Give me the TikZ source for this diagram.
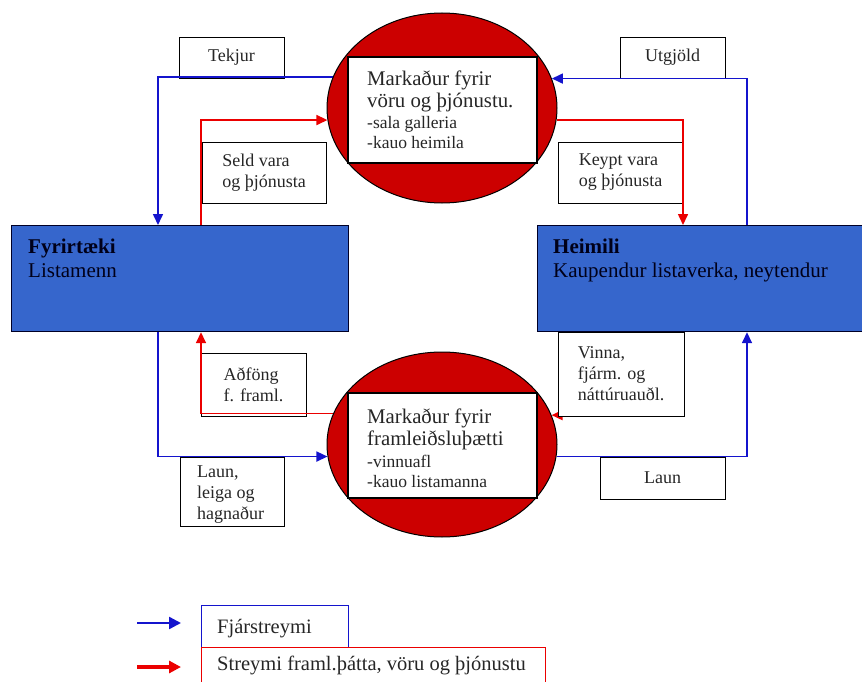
\documentclass[tikz,border=0pt]{standalone}
\usepackage{fontspec}
\setmainfont{Liberation Serif}
\usetikzlibrary{arrows.meta,shapes.geometric}
\definecolor{sectorblue}{RGB}{54,102,204}
\definecolor{flowblue}{RGB}{20,20,205}
\definecolor{flowred}{RGB}{235,0,0}
\definecolor{marketred}{RGB}{204,0,0}
\pgfdeclarelayer{labels}
\pgfdeclarelayer{lines}
\pgfsetlayers{labels,lines,main}
\tikzset{
  sector/.style={draw=black!85!blue, line width=1.2pt, fill=sectorblue, inner sep=0, anchor=north west, minimum height=106pt},
  sectortxt/.style={inner sep=0, anchor=north west, align=left, text=black!90!blue, font=\fontsize{21}{24}\selectfont},
  market/.style={ellipse, draw=black, line width=1pt, fill=marketred, inner sep=0, minimum width=230pt},
  inbox/.style={draw=black, line width=1.4pt, fill=white, inner sep=0, minimum width=189pt},
  mkttitle/.style={inner sep=0, anchor=north west, align=left, text=black!85, font=\fontsize{20.8}{21.5}\selectfont},
  mktsub/.style={inner sep=0, anchor=north west, align=left, text=black!85, font=\fontsize{17.5}{20}\selectfont},
  flowlbl/.style={draw=black, line width=0.9pt, fill=white, inner sep=0, align=left, text=black!85, font=\fontsize{18}{21}\selectfont},
  flowtxt/.style={inner sep=0, anchor=north west, align=left, text=black!85, font=\fontsize{18}{21}\selectfont},
  money/.style={draw=flowblue, line width=1.6pt, -{Triangle[length=11pt,width=10pt]}},
  goods/.style={draw=flowred, line width=1.6pt, -{Triangle[length=11pt,width=10pt]}},
  legbox/.style={line width=0.9pt, fill=none, inner sep=0},
  legtxt/.style={inner sep=0, anchor=base west, text=black!85, font=\fontsize{20.5}{24}\selectfont},
}
\begin{document}
\begin{tikzpicture}[x=1pt,y=-1pt]
\useasboundingbox (0,0) rectangle (862,682);

% sectors
\node[sector, minimum width=337pt] (firm) at (11,225) {};
\node[sector, minimum width=333pt] (heim) at (537,225) {};
\node[sectortxt] (firmT) at (28,238.5) {\textbf{Fyrirtæki}\\Listamenn};
\node[sectortxt] (heimT) at (553,238.5) {\textbf{Heimili}\\Kaupendur listaverka, neytendur};

% markets
\node[market, minimum height=190pt] (mtop) at (442,108) {};
\node[inbox, minimum height=106pt] (itop) at (442.5,110) {};
\node[mkttitle] (itopT) at (367,70.8) {Markaður fyrir\\vöru og þjónustu.};
\node[mktsub] (itopS) at (367,116) {-sala galleria\\-kauo heimila};

\node[market, minimum height=185pt] (mbot) at (442,444.5) {};
\node[inbox, minimum height=105pt] (ibot) at (442.5,445.5) {};
\node[mkttitle] (ibotT) at (367,408.8) {Markaður fyrir\\framleiðsluþætti};
\node[mktsub] (ibotS) at (367,455) {-vinnuafl\\-kauo listamanna};

% flow labels
\begin{pgfonlayer}{labels}
\node[flowlbl, minimum width=105pt, minimum height=41pt] (tekjur) at (231.5,57.5) {Tekjur};
\node[flowlbl, minimum width=105pt, minimum height=41pt] (utg) at (672.5,57.5) {Utgjöld};
\node[flowlbl, minimum width=124pt, minimum height=61pt] (seld) at (264,172.5) {Seld vara\\og þjónusta};
\node[flowlbl, minimum width=125pt, minimum height=61pt] (keypt) at (620.5,172.5) {Keypt vara\\og þjónusta};
\node[flowlbl, minimum width=105pt, minimum height=63pt] (adf) at (253.5,384.5) {Aðföng\\f. framl.};
\node[flowlbl, minimum width=104pt, minimum height=69pt] (laun1) at (232,491.5) {};
\node[flowtxt] (laun1T) at (197,466) {Laun,\\leiga og\\hagnaður};
\node[flowlbl, minimum width=125pt, minimum height=42pt] (laun2) at (662.5,478) {Laun};
\end{pgfonlayer}

% connectors
\begin{pgfonlayer}{lines}
\draw[money] (mtop.164.6) -| ([xshift=147pt]firm.north west);
\draw[money] ([xshift=210pt]heim.north west) |- (mtop.15.4);
\draw[goods] ([xshift=190pt]firm.north west) |- (mtop.186);
\draw[goods] (mtop.-6) -| ([xshift=146pt]heim.north west);
\draw[goods] (mbot.164.9) -| ([xshift=190pt]firm.south west);
\draw[money] ([xshift=147pt]firm.south west) |- (mbot.186.3);
\draw[goods] ([xshift=147pt]heim.south west) |- (mbot.15.1);
\draw[money] (mbot.-6.3) -| ([xshift=210pt]heim.south west);
\end{pgfonlayer}

\node[flowlbl, minimum width=126pt, minimum height=84pt] (vinna) at (621,374) {Vinna,\\fjárm. og\\náttúruauðl.};

% legend
\coordinate (lb1) at (137,623);
\coordinate (lb2) at (181,623);
\coordinate (lr1) at (137,667);
\coordinate (lr2) at (181,667);
\draw[draw=flowblue, line width=2.4pt, -{Triangle[length=12pt,width=12pt]}] (lb1) -- (lb2);
\draw[draw=flowred, line width=3.2pt, -{Triangle[length=12pt,width=12pt]}] (lr1) -- (lr2);
\node[legbox, draw=flowblue, minimum width=147pt, minimum height=42pt] (leg1) at (274.5,626) {};
\node[legbox, draw=flowred, minimum width=344pt, minimum height=53pt] (leg2) at (373,673.5) {};
\node[legtxt] (leg1T) at (217,633) {Fjárstreymi};
\node[legtxt] (leg2T) at (217,670) {Streymi framl.þátta, vöru og þjónustu};
\end{tikzpicture}
\end{document}
